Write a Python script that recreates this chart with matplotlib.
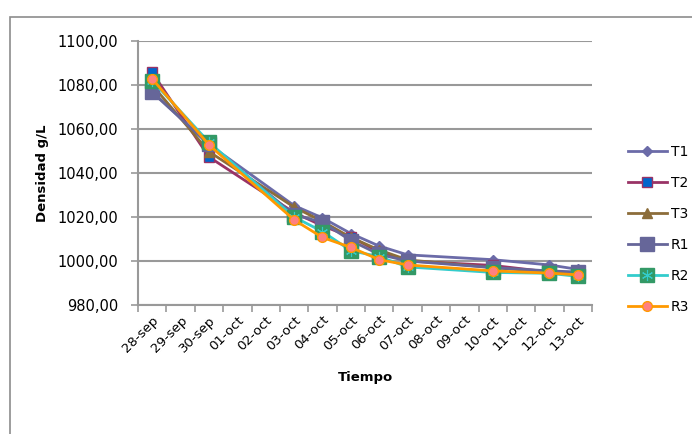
import matplotlib
matplotlib.use('Agg')
import matplotlib.pyplot as plt
from matplotlib.legend_handler import HandlerTuple
from matplotlib.patches import Rectangle

# etiquetas del eje (un dia por categoria)
fechas = ['28-sep', '29-sep', '30-sep', '01-oct', '02-oct', '03-oct', '04-oct', '05-oct',
          '06-oct', '07-oct', '08-oct', '09-oct', '10-oct', '11-oct', '12-oct', '13-oct']
# dias muestreados
muestreo = ['28-sep', '30-sep', '03-oct', '04-oct', '05-oct', '06-oct', '07-oct',
            '10-oct', '12-oct', '13-oct']

T1 = [1077.0, 1053.0, 1025.2, 1019.6, 1012.5, 1006.8, 1002.8, 1000.6, 998.2, 996.2]
T2 = [1085.7, 1047.3, 1022.0, 1016.0, 1011.0, 1004.0, 1000.0, 998.0, 995.0, 994.0]
T3 = [1080.0, 1049.7, 1024.5, 1018.0, 1010.7, 1005.0, 1000.5, 997.0, 995.0, 994.0]
R1 = [1076.7, 1053.0, 1021.0, 1017.6, 1009.3, 1003.0, 1000.0, 997.0, 995.5, 995.0]
R2 = [1082.0, 1054.0, 1020.0, 1013.4, 1004.7, 1002.0, 997.3, 994.8, 994.4, 993.0]
R3 = [1082.8, 1052.8, 1018.7, 1010.7, 1006.2, 1000.6, 998.2, 995.5, 994.5, 993.7]

x = [fechas.index(d) + 0.5 for d in muestreo]

fig = plt.figure(figsize=(6.92, 4.34), dpi=100)
fig.patches.append(Rectangle((10/692, -0.1), 1.2, 1 - 17/434 + 0.1, transform=fig.transFigure,
                             fill=False, edgecolor='#8c8c8c', lw=1.2))
ax = fig.add_axes([138/692, 1 - 305/434, (592 - 138)/692, (305 - 41)/434])

grid = '#999999'
h1, = ax.plot(x, T1, color='#6B6BA8', lw=2, marker='D', ms=5.5, mfc='#6B6BA8', mec='#6B6BA8', label='T1')
h2, = ax.plot(x, T2, color='#993366', lw=2, marker='s', ms=6.5, mfc='#0066CC', mec='#993366', mew=1, label='T2')
h3, = ax.plot(x, T3, color='#8C6D3A', lw=2, marker='^', ms=7, mfc='#8C6D3A', mec='#8C6D3A', label='T3')
h4, = ax.plot(x, R1, color='#666699', lw=2, marker='s', ms=10, mfc='#666699', mec='#666699', label='R1')
h5, = ax.plot(x, R2, color='#33CCCC', lw=2, marker='s', ms=10, mfc='#339966', mec='#339966')
h5b, = ax.plot(x, R2, ls='none', marker=(6, 2, 0), ms=8, mec='#33CCCC', mew=0.8)
h6, = ax.plot(x, R3, color='#FF9900', lw=2, marker='o', ms=7, mfc='#FF8080', mec='#FF9900', mew=1, label='R3')

ax.set_xlim(0, len(fechas))
ax.set_ylim(980, 1100)
ax.set_yticks(range(980, 1101, 20))
ax.set_yticklabels([f'{v},00' for v in range(980, 1101, 20)], fontsize=10.5)
ax.set_xticks(range(len(fechas) + 1))
ax.set_xticklabels([])
ax.set_xticks([i + 0.5 for i in range(len(fechas))], minor=True)
ax.set_xticklabels(fechas, minor=True, rotation=45, ha='right', rotation_mode='anchor', fontsize=9.5)
ax.tick_params(axis='x', which='minor', length=0, pad=6)
ax.tick_params(axis='x', which='major', length=5, color=grid, width=1.2)
ax.tick_params(axis='y', length=5, color=grid, width=1.2, pad=9)
ax.yaxis.grid(True, color=grid, lw=1.5)
ax.set_axisbelow(True)
for s in ['top', 'right']:
    ax.spines[s].set_visible(False)
for s in ['left', 'bottom']:
    ax.spines[s].set_color(grid)
    ax.spines[s].set_linewidth(1.5)

ax.set_ylabel('Densidad g/L', fontsize=9.5, fontweight='bold', labelpad=6)
ax.set_xlabel('Tiempo', fontsize=9.5, fontweight='bold', labelpad=12)

fig.legend([h1, h2, h3, h4, (h5, h5b), h6], ['T1', 'T2', 'T3', 'R1', 'R2', 'R3'],
           handler_map={tuple: HandlerTuple(ndivide=1, pad=0)},
           loc='center left', bbox_to_anchor=(0.897, 0.471), frameon=False,
           fontsize=10, handlelength=2.8, labelspacing=1.22, handletextpad=0.3, borderpad=0)

fig.savefig('out.png', dpi=100)
